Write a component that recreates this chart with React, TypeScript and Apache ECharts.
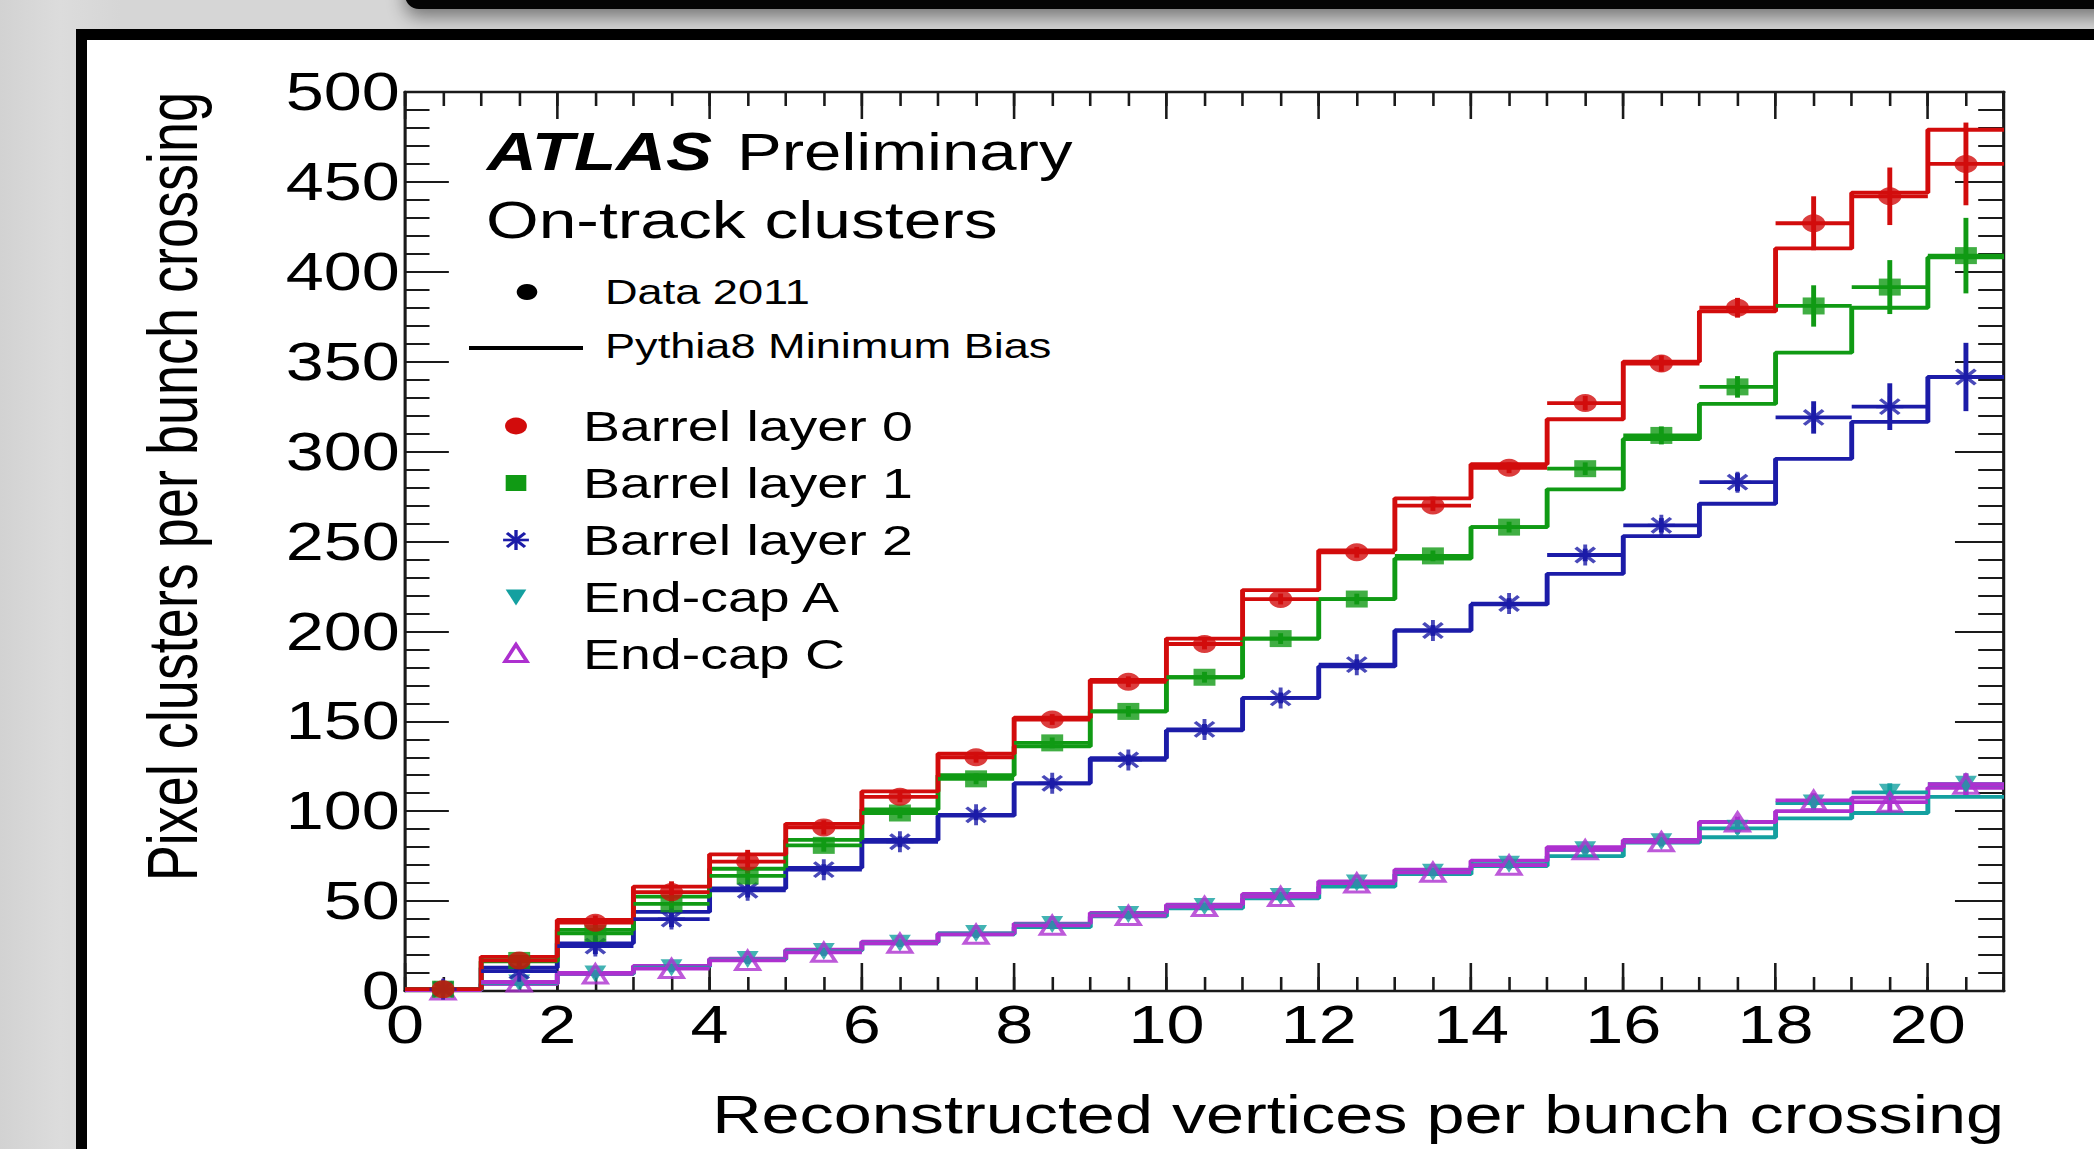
import React, { useEffect, useRef } from "react";
import * as echarts from "echarts";

// ---------- data ----------
const binLowEdges = [0, 1, 2, 3, 4, 5, 6, 7, 8, 9, 10, 11, 12, 13, 14, 15, 16, 17, 18, 19, 20];
const BIN_WIDTH = 1;

const xTicksMajor = [0, 2, 4, 6, 8, 10, 12, 14, 16, 18, 20];
const yTicks = [0, 50, 100, 150, 200, 250, 300, 350, 400, 450, 500];

const layer0Data = [1, 17, 38, 55, 72, 91, 108, 130, 151, 172, 193, 218, 244, 270, 291, 327, 349, 380, 427, 442, 460];
const layer0Err = [1, 3, 4, 6, 6.5, 4, 3, 3, 3, 3, 3, 3, 3, 3, 3, 4, 4.5, 5.5, 15, 16, 23];
const layer0MC = [1, 19, 39.5, 58, 76, 93, 111, 132, 152, 173, 196, 223, 245, 274, 293, 318, 350, 378, 413, 444, 479];

const layer1Data = [1, 17, 32, 48.5, 64, 81, 99, 118, 138, 155.5, 174.5, 196, 218, 242, 258, 290.5, 309, 336, 381, 391.5, 409];
const layer1Err = [1, 3, 4, 5, 5, 3.5, 3, 3, 3, 3, 3, 3, 3, 3, 3, 3.5, 5, 6, 11.5, 15, 21];
const layer1MC = [1, 16.5, 34, 52.5, 68, 84, 101, 120, 136, 155.5, 174.5, 196, 218, 240.5, 258, 279, 307, 326.5, 355, 380, 408];

const layer2Data = [1, 11, 25, 40, 56, 67.5, 83, 98, 115.5, 128.5, 145.5, 163, 181.5, 200.5, 215.5, 242.5, 259, 283, 319, 325, 341.5];
const layer2Err = [1, 3, 4.5, 4.5, 4, 3, 3, 3, 3, 3, 3, 3, 3, 3, 3, 3.5, 4, 5, 9, 13, 19];
const layer2MC = [1, 13, 26.5, 44, 57, 68.5, 84, 97.5, 115.5, 129.5, 145, 163, 180.5, 200.5, 215, 232, 253, 271, 296, 316.5, 341.5];

const endcapAData = [0.5, 4.5, 9.5, 13, 17.5, 22, 26.5, 32, 37, 42.5, 47, 52.5, 60, 66, 70.5, 78.5, 83, 90.5, 104.5, 110.5, 115];
const endcapAErr = [1, 2, 2, 2, 2, 2, 2, 2, 2, 2, 2, 2, 2, 2, 2, 2, 2.5, 3, 4, 5, 6];
const endcapAMC = [0.5, 4, 9.5, 13.5, 17.5, 22.5, 27, 31.5, 35.5, 41.5, 46, 51.5, 58, 65, 69.5, 75, 82.5, 85.5, 96, 99, 108];

const endcapCData = [0.5, 5, 9.5, 12.5, 17, 21.5, 26.5, 31.5, 36.5, 42, 47, 52.5, 60, 66, 70, 78.5, 83, 94, 106, 105, 115];
const endcapCErr = [1, 2, 2, 2, 2, 2, 2, 2, 2, 2, 2, 2, 2, 2, 2, 2, 2.5, 3, 4, 5, 6];
const endcapCMC = [0.5, 4, 10, 14, 18, 23, 27.5, 32, 37.5, 43.5, 48, 54, 61, 67.5, 72.5, 80, 84, 94, 100, 107.5, 113];

const seriesNames = ["Barrel layer 0", "Barrel layer 1", "Barrel layer 2", "End-cap A", "End-cap C"];
const X_TITLE = "Reconstructed vertices per bunch crossing";
const Y_TITLE = "Pixel clusters per bunch crossing";

// ---------- layout ----------
const PAGE_W = 2094;
const PAGE_H = 1149;
const S0 = 1.29; // horizontal stretch of the reference picture
const INNER_W = Math.round(PAGE_W / S0);
const S = PAGE_W / INNER_W;
const ix = (fullX: number) => fullX / S;

const FONT = "Liberation Sans, Arial, Helvetica, sans-serif";
const RED = "#d20c0c";
const GREEN = "#109a14";
const BLUE = "#1c1ca8";
const TEAL = "#14a0a0";
const MAGENTA = "#ad30cf";
const LINE_W = 3.8;
const AXIS_COLOR = "#1a1a1a";

const STAR_PATH = "path://M10,0 L10,20 M0,10 L20,10 M3,3 L17,17 M3,17 L17,3";

type Layer = {
  name: string;
  color: string;
  data: number[];
  err: number[];
  mc: number[];
  symbol: string;
  symbolSize: number;
  symbolRotate?: number;
  hollow?: boolean;
  stroke?: boolean;
};

const layers: Layer[] = [
  { name: seriesNames[3], color: TEAL, data: endcapAData, err: endcapAErr, mc: endcapAMC, symbol: "triangle", symbolSize: 17, symbolRotate: 180 },
  { name: seriesNames[4], color: MAGENTA, data: endcapCData, err: endcapCErr, mc: endcapCMC, symbol: "triangle", symbolSize: 18, hollow: true },
  { name: seriesNames[2], color: BLUE, data: layer2Data, err: layer2Err, mc: layer2MC, symbol: STAR_PATH, symbolSize: 21, stroke: true },
  { name: seriesNames[1], color: GREEN, data: layer1Data, err: layer1Err, mc: layer1MC, symbol: "rect", symbolSize: 17 },
  { name: seriesNames[0], color: RED, data: layer0Data, err: layer0Err, mc: layer0MC, symbol: "circle", symbolSize: 18 },
];

function buildSeries(): any[] {
  const out: any[] = [];
  layers.forEach((l) => {
    const hist = binLowEdges.map((x, i) => [x, l.mc[i]]);
    hist.push([binLowEdges[binLowEdges.length - 1] + BIN_WIDTH, l.mc[l.mc.length - 1]]);
    out.push({
      type: "line",
      name: l.name + " MC",
      data: hist,
      step: "end",
      symbol: "none",
      lineStyle: { color: l.color, width: LINE_W },
      z: 2,
      silent: true,
    });
  });
  layers.forEach((l) => {
    out.push({
      type: "custom",
      name: l.name + " err",
      data: binLowEdges.map((x, i) => [x + BIN_WIDTH / 2, l.data[i], l.err[i]]),
      encode: { x: 0, y: 1 },
      z: 3,
      silent: true,
      renderItem: (params: any, api: any) => {
        const x = api.value(0);
        const y = api.value(1);
        const e = api.value(2);
        const pL = api.coord([x - BIN_WIDTH / 2, y]);
        const pR = api.coord([x + BIN_WIDTH / 2, y]);
        const pT = api.coord([x, y + e]);
        const pB = api.coord([x, y - e]);
        return {
          type: "group",
          children: [
            { type: "line", shape: { x1: pL[0], y1: pL[1], x2: pR[0], y2: pR[1] }, style: { stroke: l.color, lineWidth: LINE_W } },
            { type: "line", shape: { x1: pT[0], y1: pT[1], x2: pB[0], y2: pB[1] }, style: { stroke: l.color, lineWidth: LINE_W } },
          ],
        };
      },
    });
  });
  layers.forEach((l) => {
    out.push({
      type: "scatter",
      name: l.name,
      data: binLowEdges.map((x, i) => [x + BIN_WIDTH / 2, l.data[i]]),
      symbol: l.symbol,
      symbolSize: l.symbolSize,
      symbolRotate: l.symbolRotate || 0,
      itemStyle:
        l.hollow || l.stroke
          ? { color: "rgba(0,0,0,0)", borderColor: l.color, borderWidth: 3 }
          : { color: l.color },
      z: 4,
      silent: true,
    });
  });
  return out;
}

function buildGraphic(): any[] {
  const rows = [426, 483, 540, 597, 654];
  const mx = ix(516);
  const textX = ix(583);
  const g: any[] = [];
  g.push({ type: "text", x: ix(487), y: 151, style: { text: "ATLAS", fontSize: 53.5, fontFamily: FONT, fontWeight: "bold", fontStyle: "italic", fill: "#000", align: "left", verticalAlign: "middle" } });
  g.push({ type: "text", x: ix(737), y: 152, style: { text: "Preliminary", fontSize: 52, fontFamily: FONT, fill: "#000", align: "left", verticalAlign: "middle" } });
  g.push({ type: "text", x: ix(486), y: 220, style: { text: "On-track clusters", fontSize: 52.5, fontFamily: FONT, fill: "#000", align: "left", verticalAlign: "middle" } });

  g.push({ type: "circle", shape: { cx: ix(527), cy: 292, r: 8 }, style: { fill: "#000" } });
  g.push({ type: "text", x: ix(605), y: 292, style: { text: "Data 2011", fontSize: 35, fontFamily: FONT, fill: "#000", align: "left", verticalAlign: "middle" } });
  g.push({ type: "line", shape: { x1: ix(469), y1: 348, x2: ix(583), y2: 348 }, style: { stroke: "#000", lineWidth: LINE_W } });
  g.push({ type: "text", x: ix(605), y: 346, style: { text: "Pythia8 Minimum Bias", fontSize: 35, fontFamily: FONT, fill: "#000", align: "left", verticalAlign: "middle" } });

  // legend markers
  g.push({ type: "circle", shape: { cx: mx, cy: rows[0], r: 8.5 }, style: { fill: RED } });
  g.push({ type: "rect", shape: { x: mx - 8, y: rows[1] - 8, width: 16, height: 16 }, style: { fill: GREEN } });
  const r2 = rows[2];
  g.push({
    type: "group",
    children: [
      { type: "line", shape: { x1: mx, y1: r2 - 10, x2: mx, y2: r2 + 10 }, style: { stroke: BLUE, lineWidth: 2.6 } },
      { type: "line", shape: { x1: mx - 10, y1: r2, x2: mx + 10, y2: r2 }, style: { stroke: BLUE, lineWidth: 2.6 } },
      { type: "line", shape: { x1: mx - 7, y1: r2 - 7, x2: mx + 7, y2: r2 + 7 }, style: { stroke: BLUE, lineWidth: 2.6 } },
      { type: "line", shape: { x1: mx - 7, y1: r2 + 7, x2: mx + 7, y2: r2 - 7 }, style: { stroke: BLUE, lineWidth: 2.6 } },
    ],
  });
  g.push({ type: "polygon", shape: { points: [[mx - 8, rows[3] - 7.5], [mx + 8, rows[3] - 7.5], [mx, rows[3] + 8.5]] }, style: { fill: TEAL } });
  g.push({ type: "polygon", shape: { points: [[mx, rows[4] - 9.5], [mx - 8.5, rows[4] + 7.5], [mx + 8.5, rows[4] + 7.5]] }, style: { fill: "none", stroke: MAGENTA, lineWidth: 3 } });

  seriesNames.forEach((n, i) => {
    g.push({ type: "text", x: textX, y: rows[i], style: { text: n, fontSize: 43, fontFamily: FONT, fill: "#000", align: "left", verticalAlign: "middle" } });
  });
  return g;
}

function buildOption(): any {
  const gridLeft = ix(405);
  const gridRight = INNER_W - ix(2004);
  const tickStyle = { color: AXIS_COLOR, width: 2 };
  const baseX = {
    type: "value",
    min: xTicksMajor[0],
    max: 21,
    splitLine: { show: false },
  };
  return {
    animation: false,
    backgroundColor: "transparent",
    grid: { left: gridLeft, right: gridRight, top: 92, bottom: PAGE_H - 991, containLabel: false },
    xAxis: [
      {
        ...baseX,
        position: "bottom",
        interval: 2,
        axisLine: { show: true, onZero: false, lineStyle: { color: AXIS_COLOR, width: 2.4 } },
        axisTick: { show: true, inside: true, length: 28, lineStyle: tickStyle },
        axisLabel: { show: true, margin: 7, fontSize: 53, fontFamily: FONT, color: "#000", showMaxLabel: false },
        name: X_TITLE,
        nameLocation: "end",
        nameGap: 0,
        nameTextStyle: { fontSize: 53, fontFamily: FONT, color: "#000", align: "right", verticalAlign: "top", padding: [97, 0, 0, 0] },
      },
      {
        ...baseX,
        position: "bottom",
        interval: 0.5,
        axisLine: { show: false, onZero: false },
        axisTick: { show: true, inside: true, length: 14, lineStyle: tickStyle },
        axisLabel: { show: false },
      },
      {
        ...baseX,
        position: "top",
        interval: 2,
        axisLine: { show: true, onZero: false, lineStyle: { color: AXIS_COLOR, width: 2.4 } },
        axisTick: { show: true, inside: true, length: 27, lineStyle: tickStyle },
        axisLabel: { show: false },
      },
      {
        ...baseX,
        position: "top",
        interval: 0.5,
        axisLine: { show: false, onZero: false },
        axisTick: { show: true, inside: true, length: 14, lineStyle: tickStyle },
        axisLabel: { show: false },
      },
    ],
    yAxis: [
      {
        type: "value",
        position: "left",
        min: yTicks[0],
        max: yTicks[yTicks.length - 1],
        interval: 50,
        splitLine: { show: false },
        axisLine: { show: true, onZero: false, lineStyle: { color: AXIS_COLOR, width: 2.4 } },
        axisTick: { show: true, inside: true, length: 34, lineStyle: tickStyle },
        minorTick: { show: true, splitNumber: 5, length: 19, lineStyle: tickStyle },
        axisLabel: { show: true, margin: 4, fontSize: 53, fontFamily: FONT, color: "#000" },
        name: Y_TITLE,
        nameLocation: "end",
        nameRotate: 90,
        nameGap: 0,
        nameTextStyle: { fontSize: 54, fontFamily: FONT, color: "#000", align: "right", verticalAlign: "bottom", padding: [0, 0, 153, 0] },
      },
      {
        type: "value",
        position: "right",
        min: yTicks[0],
        max: yTicks[yTicks.length - 1],
        interval: 50,
        splitLine: { show: false },
        axisLine: { show: true, onZero: false, lineStyle: { color: AXIS_COLOR, width: 2.4 } },
        axisTick: { show: true, inside: true, length: 38, lineStyle: tickStyle },
        minorTick: { show: true, splitNumber: 5, length: 20, lineStyle: tickStyle },
        axisLabel: { show: false },
      },
    ],
    series: buildSeries(),
    graphic: buildGraphic(),
  };
}

export default function App() {
  const ref = useRef<HTMLDivElement>(null);
  useEffect(() => {
    if (!ref.current) return;
    const chart = echarts.init(ref.current, null, { renderer: "svg", width: INNER_W, height: PAGE_H });
    chart.setOption(buildOption());
    return () => chart.dispose();
  }, []);
  return (
    <div
      style={{
        position: "fixed",
        left: 0,
        top: 0,
        width: PAGE_W,
        height: PAGE_H,
        overflow: "hidden",
        background: "linear-gradient(90deg, #d2d2d2 0px, #dcdcdc 60px, #d6d6d6 120px)",
      }}
    >
      <div
        style={{
          position: "absolute",
          left: 405,
          top: -30,
          width: 1800,
          height: 39,
          background: "#050505",
          borderBottomLeftRadius: 14,
          boxShadow: "0 8px 18px rgba(0,0,0,0.45)",
        }}
      />
      <div
        style={{
          position: "absolute",
          left: 76,
          top: 29,
          width: 2100,
          height: 1200,
          boxSizing: "border-box",
          border: "11px solid #000",
          background: "#fff",
        }}
      />
      <div
        ref={ref}
        style={{
          position: "absolute",
          left: 0,
          top: 0,
          width: INNER_W,
          height: PAGE_H,
          transform: `scaleX(${S})`,
          transformOrigin: "0 0",
        }}
      />
    </div>
  );
}
